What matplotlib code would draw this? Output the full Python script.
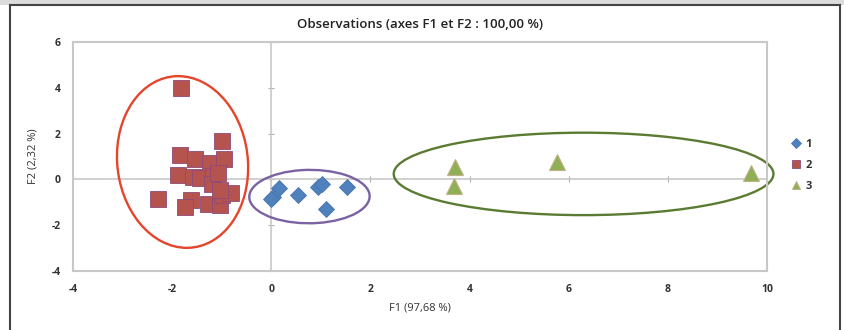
import matplotlib
matplotlib.use("Agg")
import matplotlib.pyplot as plt
from matplotlib.patches import Ellipse, Rectangle
from matplotlib.lines import Line2D

plt.rcParams['font.family'] = ['Open Sans', 'DejaVu Sans']

# Data
g1_x = [0.16, 0.04, 0.00, 0.54, 0.95, 1.02, 1.53, 1.10]
g1_y = [-0.39, -0.75, -0.85, -0.68, -0.35, -0.20, -0.32, -1.31]

g2_x = [-1.82, -1.00, -1.84, -1.54, -1.24, -0.96, -1.88, -1.57, -1.44, -1.18,
        -1.20, -1.08, -2.28, -1.61, -1.74, -1.27, -1.04, -1.00, -0.81, -1.04]
g2_y = [3.98, 1.69, 1.05, 0.88, 0.70, 0.90, 0.19, 0.12, 0.05, 0.14,
        -0.20, 0.27, -0.86, -0.90, -1.19, -1.07, -1.12, -0.68, -0.61, -0.46]

g3_x = [3.70, 3.68, 5.77, 9.68]
g3_y = [0.55, -0.29, 0.77, 0.27]

labels = ["1", "2", "3"]
x_ticks = [-4, -2, 0, 2, 4, 6, 8, 10]
y_ticks = [-4, -2, 0, 2, 4, 6]

# Ellipses: (cx, cy, w, h, angle, color)
ellipses = [
    (-1.79, 0.76, 2.64, 7.50, 1.5, "#e4452b"),
    (0.77, -0.75, 2.43, 2.33, 8, "#7b62a3"),
    (6.30, 0.24, 7.66, 3.60, 0, "#5b7b32"),
]

fig = plt.figure(figsize=(8.44, 3.30), dpi=100)
fig.patch.set_facecolor("white")

# outer frame
fig.patches.append(Rectangle((0, 1 - 5/330), 1, 5/330, transform=fig.transFigure,
                             facecolor="#dcdcdc", edgecolor="none", zorder=0))
fig.add_artist(Line2D([10/844, 10/844], [0, 1 - 5/330], transform=fig.transFigure, color="#444444", lw=1.5))
fig.add_artist(Line2D([840/844, 840/844], [0, 1 - 5/330], transform=fig.transFigure, color="#444444", lw=1.5))
fig.add_artist(Line2D([10/844, 840/844], [1 - 5/330, 1 - 5/330], transform=fig.transFigure, color="#444444", lw=1.5))

rect = [73/844, 1 - 271/330, (767 - 73)/844, (271 - 42)/330]

# axes with zero-crossing spines (tick marks only)
ax = fig.add_axes(rect)
ax.set_xlim(-4, 10)
ax.set_ylim(-4, 6)
for s in ["top", "right"]:
    ax.spines[s].set_visible(False)
ax.spines["left"].set_position("zero")
ax.spines["bottom"].set_position("zero")
for s in ["left", "bottom"]:
    ax.spines[s].set_color("#c8c8c8")
    ax.spines[s].set_linewidth(1.2)
ax.set_xticks(x_ticks)
ax.set_yticks(y_ticks)
ax.tick_params(direction="inout", length=5, color="#b0b0b0", labelleft=False, labelbottom=False)
ax.patch.set_alpha(0)

# overlay axes for frame and labels
ax2 = fig.add_axes(rect)
ax2.set_xlim(-4, 10)
ax2.set_ylim(-4, 6)
ax2.patch.set_alpha(0)
for s in ax2.spines.values():
    s.set_color("#c8c8c8")
    s.set_linewidth(1.5)
ax2.set_xticks(x_ticks)
ax2.set_yticks(y_ticks)
ax2.set_xticklabels([str(t) for t in x_ticks])
ax2.set_yticklabels([str(t) for t in y_ticks])
ax2.tick_params(length=0, labelsize=7.5, labelcolor="#333333", pad=9)
for lab in ax2.get_xticklabels() + ax2.get_yticklabels():
    lab.set_fontweight("bold")

for cx, cy, w, h, ang, col in ellipses:
    ax2.add_patch(Ellipse((cx, cy), w, h, angle=ang, fill=False, edgecolor=col, lw=1.7, clip_on=False, zorder=2))

ax2.plot(g1_x, g1_y, linestyle="none", marker="D", markersize=8.5, color="#4f81bd",
         markeredgecolor="#4a75b0", markeredgewidth=0.6, label=labels[0], zorder=3)
ax2.plot(g2_x, g2_y, linestyle="none", marker="s", markersize=11, color="#b5534f",
         markeredgecolor="#8e4a7a", markeredgewidth=0.6, label=labels[1], zorder=3)
ax2.plot(g3_x, g3_y, linestyle="none", marker="^", markersize=11, color="#8eaf55",
         markeredgecolor="#c2b28a", markeredgewidth=0.8, label=labels[2], zorder=3)

ax2.set_title("Observations (axes F1 et F2 : 100,00 %)", fontsize=9.5, color="#222222",
              pad=10, fontweight="semibold")
ax2.set_xlabel("F1 (97,68 %)", fontsize=8, color="#333333", labelpad=6)
ax2.set_ylabel("F2 (2,32 %)", fontsize=8, color="#333333", labelpad=9)

leg = ax2.legend(loc="center left", bbox_to_anchor=(1.02, 0.46), frameon=False,
                 fontsize=8, handletextpad=0.3, labelspacing=0.9, markerscale=0.55,
                 handlelength=1.0)
for t in leg.get_texts():
    t.set_fontweight("bold")
    t.set_color("#333333")

fig.savefig("out.png", dpi=100)
